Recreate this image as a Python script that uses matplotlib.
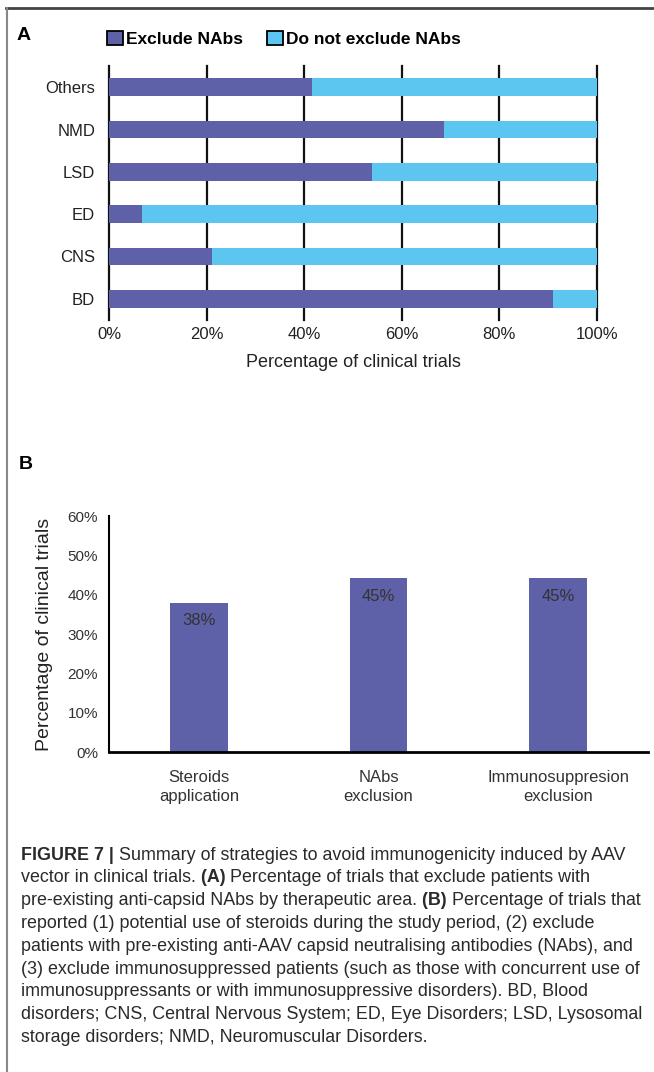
import matplotlib
matplotlib.use('Agg')
import matplotlib.pyplot as plt
from matplotlib.patches import Patch
from matplotlib.lines import Line2D

plt.rcParams['font.family'] = ['Liberation Sans', 'DejaVu Sans']

# Data - panel A (bottom to top)
areas = ['BD', 'CNS', 'ED', 'LSD', 'NMD', 'Others']
exclude = [90.9, 21.1, 6.8, 53.8, 68.6, 41.5]
not_exclude = [9.1, 78.9, 93.2, 46.2, 31.4, 58.5]
series_names = ['Exclude NAbs', 'Do not exclude NAbs']
pct_ticks = [0, 20, 40, 60, 80, 100]

# Data - panel B
strategies = ['Steroids\napplication', 'NAbs\nexclusion', 'Immunosuppresion\nexclusion']
strategy_pct = [37.9, 44.2, 44.2]
strategy_labels = ['38%', '45%', '45%']
b_ticks = [0, 10, 20, 30, 40, 50, 60]

caption = [
    [('FIGURE 7 |', True), (' Summary of strategies to avoid immunogenicity induced by AAV', False)],
    [('vector in clinical trials.', False), (' (A)', True), (' Percentage of trials that exclude patients with', False)],
    [('pre-existing anti-capsid NAbs by therapeutic area.', False), (' (B)', True), (' Percentage of trials that', False)],
    [('reported (1) potential use of steroids during the study period, (2) exclude', False)],
    [('patients with pre-existing anti-AAV capsid neutralising antibodies (NAbs), and', False)],
    [('(3) exclude immunosuppressed patients (such as those with concurrent use of', False)],
    [('immunosuppressants or with immunosuppressive disorders). BD, Blood', False)],
    [('disorders; CNS, Central Nervous System; ED, Eye Disorders; LSD, Lysosomal', False)],
    [('storage disorders; NMD, Neuromuscular Disorders.', False)],
]

purple = '#5E60A8'
blue = '#5CC6F0'

W, H = 654, 1072
fig = plt.figure(figsize=(W / 100, H / 100), dpi=100)

def fx(px):
    return px / W

def fy(py):
    return 1 - py / H

# ---- Panel A ----
axA = fig.add_axes([fx(109), fy(320), fx(597 - 109), (320 - 66) / H])
ypos = list(range(len(areas)))
axA.barh(ypos, exclude, height=0.42, color=purple, zorder=3)
axA.barh(ypos, not_exclude, left=exclude, height=0.42, color=blue, zorder=3)
axA.set_xlim(0, 100)
axA.set_ylim(-0.5, len(areas) - 0.5)
axA.set_xticks(pct_ticks)
axA.set_xticklabels([f'{t}%' for t in pct_ticks])
axA.set_yticks(ypos)
axA.set_yticklabels(areas)
axA.tick_params(length=0, labelsize=12, colors='#222222')
axA.tick_params(axis='x', pad=5)
axA.tick_params(axis='y', pad=10)
axA.grid(axis='x', color='#111111', linewidth=1.6, zorder=0)
for gl in axA.get_xgridlines():
    gl.set_clip_on(False)
for s in axA.spines.values():
    s.set_visible(False)
axA.set_xlabel('Percentage of clinical trials', fontsize=13, color='#222222', labelpad=9)

handles = [Patch(facecolor=purple, edgecolor='black', linewidth=1.3),
           Patch(facecolor=blue, edgecolor='black', linewidth=1.3)]
fig.legend(handles, series_names, loc='center left', bbox_to_anchor=(fx(107), fy(39)),
           ncol=2, frameon=False, handlelength=0.9, handleheight=0.9, handletextpad=0.2,
           columnspacing=1.4, borderpad=0, borderaxespad=0,
           prop={'weight': 'bold', 'size': 12.5})

fig.text(fx(17), fy(36), 'A', fontsize=14, fontweight='bold', va='center', ha='left')

# ---- Panel B ----
axB = fig.add_axes([fx(109), fy(752), fx(648 - 109), (752 - 516) / H])
xpos = list(range(len(strategies)))
bars = axB.bar(xpos, strategy_pct, width=0.32, color=purple)
axB.set_xlim(-0.5, len(strategies) - 0.5)
axB.set_ylim(0, 60)
axB.set_yticks(b_ticks)
axB.set_yticklabels([f'{t}%' for t in b_ticks])
axB.set_xticks(xpos)
axB.set_xticklabels(strategies, linespacing=1.3)
axB.tick_params(length=0, colors='#333333')
axB.tick_params(axis='y', labelsize=11, pad=8)
axB.tick_params(axis='x', labelsize=12, pad=13)
for side in ['top', 'right']:
    axB.spines[side].set_visible(False)
axB.spines['left'].set_linewidth(1.5)
axB.spines['bottom'].set_linewidth(2)
axB.set_ylabel('Percentage of clinical trials', fontsize=14, color='#222222', labelpad=10)
for b, lab in zip(bars, strategy_labels):
    axB.annotate(lab, (b.get_x() + b.get_width() / 2, b.get_height()),
                 xytext=(0, -13), textcoords='offset points',
                 ha='center', va='center', fontsize=12, color='#333333')

fig.text(fx(19), fy(465), 'B', fontsize=14, fontweight='bold', va='center', ha='left')

# ---- Caption ----
renderer = fig.canvas.get_renderer()
y0 = 855
for i, line in enumerate(caption):
    x = fx(21)
    for s, bold in line:
        t = fig.text(x, fy(y0 + i * 22.8), s, fontsize=12.9, va='center', ha='left',
                     fontweight='bold' if bold else 'normal', color='#2a2a2a')
        x += t.get_window_extent(renderer).width / W

# ---- Frame ----
fig.add_artist(Line2D([fx(6), 1], [fy(8), fy(8)], color='#444444', linewidth=2))
fig.add_artist(Line2D([fx(7), fx(7)], [0, fy(8)], color='#888888', linewidth=1.5))

fig.savefig('out.png', dpi=100)
